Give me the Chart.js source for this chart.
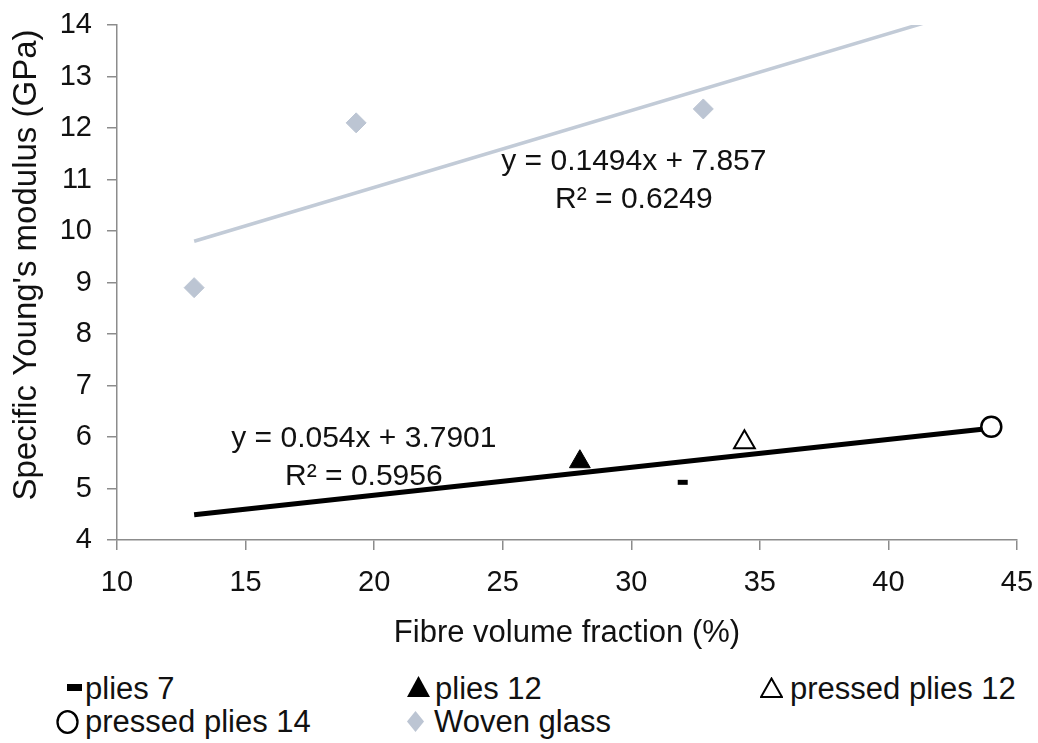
<!DOCTYPE html>
<html>
<head>
<meta charset="utf-8">
<script src="https://cdn.jsdelivr.net/npm/chart.js@4.4.1/dist/chart.umd.min.js"></script>
<style>
  html, body { margin: 0; padding: 0; background: #fff; }
  #wrap { position: relative; width: 1038px; height: 743px; font-family: "Liberation Sans", Arial, sans-serif; }
  #box { position: absolute; left: 0; top: 0; width: 1038px; height: 660px; }
  .lg { position: absolute; font-size: 31px; color: #111; white-space: nowrap; line-height: 34px; }
  .lg svg { position: absolute; }
</style>
</head>
<body>
<div id="wrap">
  <div id="box"><canvas id="c"></canvas></div>
  <div class="lg" style="left:85px;top:672px"><svg style="left:-18px;top:12px" width="15" height="8"><rect x="0" y="0" width="15" height="7" fill="#000"/></svg>plies 7</div>
  <div class="lg" style="left:435px;top:672px"><svg style="left:-28px;top:4px" width="23" height="22"><polygon points="11.5,0 23,21 0,21" fill="#000"/></svg>plies 12</div>
  <div class="lg" style="left:790px;top:672px"><svg style="left:-30px;top:5px" width="23" height="21"><polygon points="11.5,1.5 22,20 1,20" fill="#fff" stroke="#000" stroke-width="2"/></svg>pressed plies 12</div>
  <div class="lg" style="left:85px;top:705px"><svg style="left:-30px;top:5px" width="25" height="25"><ellipse cx="12.5" cy="12" rx="10" ry="10.8" fill="none" stroke="#000" stroke-width="2.3"/></svg>pressed plies 14</div>
  <div class="lg" style="left:434px;top:705px"><svg style="left:-27px;top:6px" width="17" height="21"><polygon points="8.5,0 17,10.5 8.5,21 0,10.5" fill="#bcc5d3"/></svg>Woven glass</div>
</div>
<script>
// values
const plies7 = [{ x: 32.0, y: 5.12 }];
const plies12 = [{ x: 28.0, y: 5.52 }];
const pressed12 = [{ x: 34.4, y: 5.9 }];
const pressed14 = [{ x: 44.0, y: 6.2 }];
const wovenX = [13.0, 19.3, 32.8];
const wovenY = [8.9, 12.1, 12.37];

// trendline ends (x from 13 to 44)
const trendX = [13, 44];
const fibreTrendY = [4.49, 6.17];
const glassTrendY = [9.80, 14.43];

const xTicks = [10, 15, 20, 25, 30, 35, 40, 45];
const yTicks = [4, 5, 6, 7, 8, 9, 10, 11, 12, 13, 14];

const labels = [
  { x: 30.1, y: 11.34, text: 'y = 0.1494x + 7.857' },
  { x: 30.1, y: 10.6, text: 'R² = 0.6249' },
  { x: 19.6, y: 5.96, text: 'y = 0.054x + 3.7901' },
  { x: 19.6, y: 5.22, text: 'R² = 0.5956' }
];

const FONT = '"Liberation Sans", Arial, sans-serif';
const AXIS = '#8c8c8c';

const textPlugin = {
  id: 'eqText',
  afterDatasetsDraw(chart) {
    const { ctx, scales } = chart;
    ctx.save();
    ctx.font = '30px ' + FONT;
    ctx.fillStyle = '#111';
    ctx.textAlign = 'center';
    ctx.textBaseline = 'middle';
    labels.forEach(l => ctx.fillText(l.text, scales.x.getPixelForValue(l.x), scales.y.getPixelForValue(l.y)));
    // y axis title, a little above the axis middle as in the original
    ctx.font = '33px ' + FONT;
    ctx.translate(27, 265);
    ctx.rotate(-Math.PI / 2);
    ctx.fillText("Specific Young's modulus (GPa)", 0, 0);
    ctx.restore();
  }
};

new Chart(document.getElementById('c'), {
  type: 'scatter',
  data: {
    datasets: [
      {
        label: 'Woven glass trend', type: 'line', order: 3, clip: 0,
        data: trendX.map((x, i) => ({ x, y: glassTrendY[i] })),
        borderColor: '#c2cbd7', borderWidth: 3.5, pointRadius: 0, fill: false
      },
      {
        label: 'Fibre trend', type: 'line', order: 3,
        data: trendX.map((x, i) => ({ x, y: fibreTrendY[i] })),
        borderColor: '#000', borderWidth: 5, pointRadius: 0, fill: false
      },
      {
        label: 'plies 7', data: plies7, order: 1,
        pointStyle: 'line', pointRadius: 5, borderColor: '#000', borderWidth: 5
      },
      {
        label: 'plies 12', data: plies12, order: 1,
        pointStyle: 'triangle', pointRadius: 12, backgroundColor: '#000', borderColor: '#000', borderWidth: 1
      },
      {
        label: 'pressed plies 12', data: pressed12, order: 1,
        pointStyle: 'triangle', pointRadius: 12, backgroundColor: '#fff', borderColor: '#000', borderWidth: 2
      },
      {
        label: 'pressed plies 14', data: pressed14, order: 1,
        pointStyle: 'circle', pointRadius: 10, backgroundColor: '#fff', borderColor: '#000', borderWidth: 2.5
      },
      {
        label: 'Woven glass', data: wovenX.map((x, i) => ({ x, y: wovenY[i] })), order: 1,
        pointStyle: 'rectRot', pointRadius: 10, backgroundColor: '#bcc5d3', borderColor: '#bcc5d3', borderWidth: 1
      }
    ]
  },
  options: {
    responsive: true,
    maintainAspectRatio: false,
    animation: false,
    layout: { padding: { top: 25, right: 21, left: 0, bottom: 0 } },
    plugins: { legend: { display: false }, tooltip: { enabled: false } },
    scales: {
      x: {
        type: 'linear', min: 10, max: 45,
        afterBuildTicks: s => { s.ticks = xTicks.map(v => ({ value: v })); },
        afterFit: s => { s.height = 120; },
        border: { color: AXIS, width: 1.5 },
        grid: { drawOnChartArea: false, tickLength: 10, color: AXIS, lineWidth: 1.5 },
        ticks: { color: '#111', font: { family: FONT, size: 29, lineHeight: 2.0 }, padding: 4, maxRotation: 0 },
        title: { display: true, text: 'Fibre volume fraction (%)', color: '#111', font: { family: FONT, size: 31 }, padding: { top: 0, bottom: 8 } }
      },
      y: {
        type: 'linear', min: 4, max: 14,
        afterBuildTicks: s => { s.ticks = yTicks.map(v => ({ value: v })); },
        afterFit: s => { s.width = 117; },
        border: { color: AXIS, width: 1.5 },
        grid: { drawOnChartArea: false, tickLength: 10, color: AXIS, lineWidth: 1.5 },
        ticks: { color: '#111', font: { family: FONT, size: 29, lineHeight: 0.6 }, padding: 15 }
      }
    }
  },
  plugins: [textPlugin]
});
</script>
</body>
</html>
